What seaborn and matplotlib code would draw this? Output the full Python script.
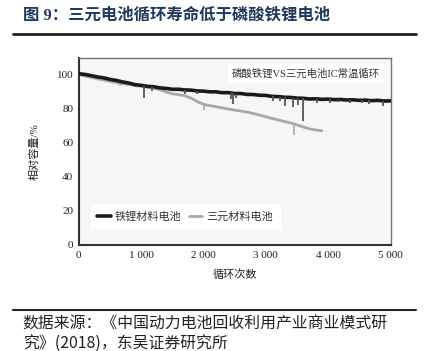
import numpy as np
import pandas as pd
import matplotlib
matplotlib.use("Agg")
import matplotlib.pyplot as plt
import seaborn as sns

# --- data ---
lfp_cycles = list(range(0, 5001, 100))
lfp_capacity = [100.5, 100.1, 99.4, 98.6, 98.1, 97.2, 96.6, 95.7, 95.1, 94.1,
                93.7, 93.1, 92.9, 92.2, 91.9, 91.4, 91.4, 91.0, 90.9, 90.4,
                90.3, 89.9, 89.9, 89.4, 89.4, 88.9, 88.9, 88.4, 88.3, 87.9,
                87.8, 87.2, 87.1, 86.7, 86.6, 86.2, 86.1, 85.7, 85.8, 85.5,
                85.6, 85.3, 85.4, 85.1, 85.2, 84.9, 85.0, 84.7, 84.9, 84.5, 84.6]

ncm_cycles = list(range(0, 3901, 100))
ncm_capacity = [100.0, 99.2, 98.4, 97.5, 96.8, 96.0, 95.3, 94.7, 94.2, 93.6,
                93.2, 92.6, 92.0, 91.2, 89.8, 88.8, 88.2, 87.6, 86.2, 84.2,
                82.6, 81.8, 81.2, 80.5, 79.8, 79.2, 78.6, 78.0, 77.2, 76.2,
                75.3, 74.3, 73.4, 72.5, 71.6, 70.5, 69.3, 68.2, 67.5, 67.0]

# downward spikes in the measured curves
lfp_dip_cycles = [1045, 1180, 1700, 1900, 2450, 2480, 2520, 3120, 3230, 3310,
                  3440, 3520, 3600, 3820, 4030, 4160, 4350, 4550, 4650, 4890]
lfp_dip_low = [86.0, 90.5, 88.8, 88.8, 85.5, 82.5, 86.0, 84.5, 84.5, 81.5,
               80.8, 82.0, 72.5, 83.5, 83.5, 83.8, 83.5, 83.5, 83.0, 81.5]
ncm_dip_cycles = [660, 2010, 3450]
ncm_dip_low = [93.5, 79.0, 64.5]

x_ticks = [0, 1000, 2000, 3000, 4000, 5000]
x_tick_labels = ["0", "1 000", "2 000", "3 000", "4 000", "5 000"]
y_ticks = [0, 20, 40, 60, 80, 100]

lfp_label = "铁锂材料电池"
ncm_label = "三元材料电池"

sns.set_theme(style="white")
plt.rcParams['font.family'] = ['Liberation Serif', 'Noto Sans CJK SC', 'DejaVu Sans']

fig = plt.figure(figsize=(4.24, 3.51), dpi=100)
ax = fig.add_axes([0.186, 0.302, 0.736, 0.534])
ax.set_facecolor("#f6f6f6")

df_lfp = pd.DataFrame({"cycle": lfp_cycles, "cap": lfp_capacity})
df_ncm = pd.DataFrame({"cycle": ncm_cycles, "cap": ncm_capacity})

sns.lineplot(data=df_ncm, x="cycle", y="cap", ax=ax, color="#a8a8a8",
             linewidth=2.0, label=ncm_label, zorder=2)
sns.lineplot(data=df_lfp, x="cycle", y="cap", ax=ax, color="#1a1a1a",
             linewidth=2.6, label=lfp_label, zorder=3)

ax.vlines(ncm_dip_cycles, ncm_dip_low, np.interp(ncm_dip_cycles, ncm_cycles, ncm_capacity),
          color="#a8a8a8", linewidth=1.2, zorder=2)
ax.vlines(lfp_dip_cycles, lfp_dip_low, np.interp(lfp_dip_cycles, lfp_cycles, lfp_capacity),
          color="#555555", linewidth=1.3, zorder=3)

ax.set_xlim(0, 5010)
ax.set_ylim(0, 110)
ax.set_xticks(x_ticks)
ax.set_xticklabels(x_tick_labels)
ax.set_yticks(y_ticks)
ax.tick_params(axis="both", length=0, labelsize=8, colors="#222222", pad=4)
ax.set_xlabel("循环次数", fontsize=8, color="#222222", labelpad=7)
ax.set_ylabel("相对容量/%", fontsize=8, color="#222222", labelpad=12)

for side in ["left", "bottom"]:
    ax.spines[side].set_color("#333333")
    ax.spines[side].set_linewidth(1.5)
for side in ["top", "right"]:
    ax.spines[side].set_color("#777777")
    ax.spines[side].set_linewidth(1.0)

handles, labels = ax.get_legend_handles_labels()
order = [labels.index(lfp_label), labels.index(ncm_label)]
leg = ax.legend([handles[i] for i in order], [labels[i] for i in order],
                loc="lower left", bbox_to_anchor=(0.02, 0.06), ncol=2,
                fontsize=8, frameon=True, facecolor="white", edgecolor="white",
                handlelength=1.2, handletextpad=0.4, columnspacing=0.6,
                borderpad=0.6, fancybox=False, framealpha=1.0)
for t in leg.get_texts():
    t.set_color("#333333")

ax.text(0.965, 0.915, "磷酸铁锂VS三元电池IC常温循环", transform=ax.transAxes,
        ha="right", va="center", fontsize=7.5, color="#333333", zorder=5,
        bbox=dict(facecolor="white", edgecolor="none", pad=3))

# header / footer
fig.text(0.054, 0.955, "图 9：三元电池循环寿命低于磷酸铁锂电池", ha="left", va="center",
         fontsize=11.8, fontweight="bold", color="#1f3a5f")
fig.add_artist(plt.Line2D([0.031, 0.981], [0.903, 0.903], color="#222222", linewidth=2.0))
fig.add_artist(plt.Line2D([0.031, 0.981], [0.117, 0.117], color="#222222", linewidth=1.5))
fig.text(0.054, 0.078, "数据来源：《中国动力电池回收利用产业商业模式研", ha="left", va="center",
         fontsize=11.4, color="#222222", family=['Noto Sans CJK SC', 'DejaVu Sans'])
fig.text(0.054, 0.022, "究》(2018)，东吴证券研究所", ha="left", va="center",
         fontsize=11.4, color="#222222", family=['Noto Sans CJK SC', 'DejaVu Sans'])

fig.savefig("out.png", dpi=100)
